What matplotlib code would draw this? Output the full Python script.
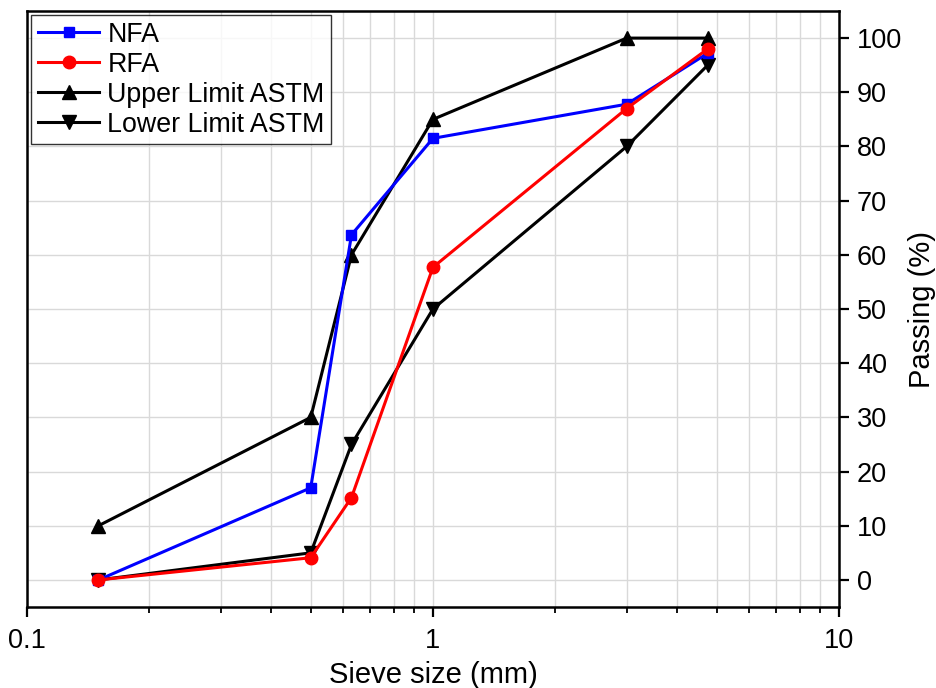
import matplotlib
matplotlib.use("Agg")
import matplotlib.pyplot as plt
from matplotlib.ticker import FixedLocator, LogLocator, NullFormatter, FuncFormatter

plt.rcParams['font.family'] = ['Liberation Sans', 'DejaVu Sans']

sieve = [0.15, 0.5, 0.63, 1.0, 3.0, 4.75]
nfa = [0, 17.0, 63.7, 81.5, 87.8, 97.2]
rfa = [0, 4.1, 15.2, 57.7, 87.0, 98.0]
upper = [10, 30, 60, 85, 100, 100]
lower = [0, 5, 25, 50, 80, 95]

fig = plt.figure(figsize=(9.36, 6.88), dpi=100)
ax = fig.add_axes([0.0288, 0.1177, 0.8675, 0.8663])

lw = 2.2
ax.plot(sieve, nfa, color='#0000ff', marker='s', lw=lw, ms=7.5, label='NFA', zorder=4)
ax.plot(sieve, rfa, color='#ff0000', marker='o', lw=lw, ms=9, label='RFA', zorder=5)
ax.plot(sieve, upper, color='black', marker='^', lw=lw, ms=10, label='Upper Limit ASTM', zorder=3)
ax.plot(sieve, lower, color='black', marker='v', lw=lw, ms=10, label='Lower Limit ASTM', zorder=3)

ax.set_xscale('log')
ax.set_xlim(0.1, 10)
ax.set_ylim(-5, 105)
ax.xaxis.set_major_formatter(FuncFormatter(lambda v, p: {0.1: '0.1', 1: '1', 10: '10'}.get(round(v, 3), '')))
ax.xaxis.set_minor_locator(LogLocator(base=10, subs=range(2, 10)))
ax.xaxis.set_minor_formatter(NullFormatter())
ax.yaxis.set_major_locator(FixedLocator(range(0, 101, 10)))

ax.grid(True, which='both', axis='x', color='#d9d9d9', lw=1.0, zorder=0)
ax.grid(True, which='major', axis='y', color='#d9d9d9', lw=1.0, zorder=0)
ax.set_axisbelow(True)

ax.yaxis.tick_right()
ax.yaxis.set_label_position('right')
ax.tick_params(axis='y', which='major', direction='out', length=7, width=1.6, labelsize=19.5,
               right=True, left=False, pad=6)
ax.tick_params(axis='x', which='major', direction='out', length=7, width=1.6, labelsize=19.5, pad=8)
ax.tick_params(axis='x', which='minor', direction='out', length=4, width=1.3)
for s in ax.spines.values():
    s.set_linewidth(1.8)

ax.set_xlabel('Sieve size (mm)', fontsize=21, labelpad=5)
ax.set_ylabel('Passing (%)', fontsize=21, labelpad=4)

leg = ax.legend(loc='upper left', fontsize=19.3, frameon=True, fancybox=False,
                edgecolor='black', handlelength=2.3, borderpad=0.25, labelspacing=0.15,
                handletextpad=0.3, borderaxespad=0.15)
leg.get_frame().set_linewidth(1.0)

fig.savefig('out.png', dpi=100)
